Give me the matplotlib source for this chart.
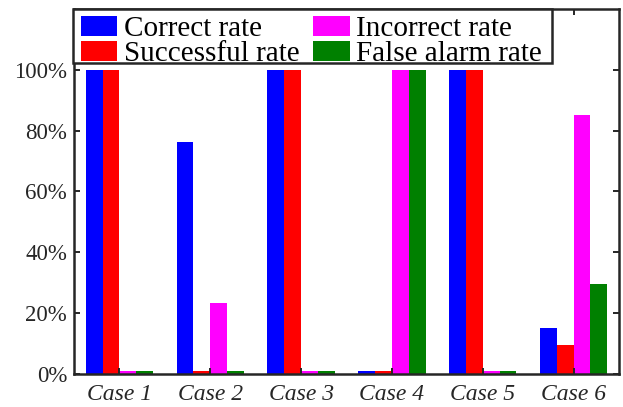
import matplotlib
matplotlib.use('Agg')
import matplotlib.pyplot as plt
from matplotlib.patches import Rectangle
import numpy as np

cases = ['Case 1', 'Case 2', 'Case 3', 'Case 4', 'Case 5', 'Case 6']
labels = ['Correct rate', 'Successful rate', 'Incorrect rate', 'False alarm rate']
correct = [100, 76.4, 100, 1, 100, 15]
successful = [100, 1, 100, 1, 100, 9.5]
incorrect = [1, 23.4, 1, 100, 1, 85]
false_alarm = [1, 1, 1, 100, 1, 29.7]
colors = ['#0000ff', '#ff0000', '#ff00ff', '#008000']

plt.rcParams['font.family'] = ['Liberation Serif', 'DejaVu Serif']

W, H = 623, 407
fig = plt.figure(figsize=(W / 100, H / 100), dpi=100)
ax = fig.add_axes([0.1188, 0.0811, 0.8748, 0.8968])

x = np.arange(1, len(cases) + 1)
width = 0.185
series = [correct, successful, incorrect, false_alarm]
for i in range(len(series)):
    ax.bar(x + (i - 1.5) * width, series[i], width=width, color=colors[i],
           label=labels[i], linewidth=0)

ax.set_xlim(0.5, 6.5)
ax.set_ylim(0, 120)
ax.set_xticks(x)
ax.set_xticklabels(cases, fontsize=17, style='italic', color='#262626')
ax.set_yticks([0, 20, 40, 60, 80, 100])
ax.set_yticklabels(['0%', '20%', '40%', '60%', '80%', '100%'], fontsize=16.5, color='#262626')
ax.tick_params(direction='in', length=4.3, width=1.4, top=True, right=True, colors='#262626')
ax.tick_params(axis='x', pad=7)
ax.tick_params(axis='y', pad=5)
for s in ax.spines.values():
    s.set_linewidth(1.8)
    s.set_color('#262626')

# legend without its own frame, tight rows; box drawn separately (MATLAB look)
leg = ax.legend(ncol=2, loc='upper left', bbox_to_anchor=(81 / W, 1 - 16 / H),
                bbox_transform=fig.transFigure, borderaxespad=0,
                fontsize=21, handlelength=1.25, handleheight=0.7, handletextpad=0.22,
                labelspacing=-0.05, columnspacing=0.47, borderpad=0,
                frameon=False)
leg.set_zorder(5)

fig.canvas.draw()
bb = leg.get_window_extent()
box = Rectangle((bb.x0 - 8, bb.y0 + 4), bb.width + 18, bb.height + 3,
                transform=None, facecolor='white', edgecolor='#262626',
                linewidth=1.8, zorder=4.5, clip_on=False)
ax.add_artist(box)

fig.savefig('out.png', dpi=100)
